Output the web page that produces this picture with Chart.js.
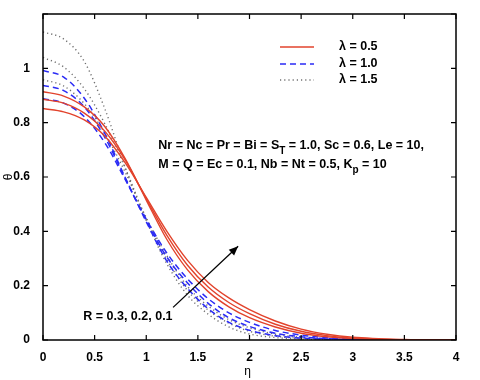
<!DOCTYPE html>
<html>
<head>
<meta charset="utf-8">
<script src="https://cdn.jsdelivr.net/npm/chart.js@4/dist/chart.umd.min.js"></script>
<style>
  body { margin: 0; background: #fff; }
</style>
</head>
<body>
<canvas id="myChart" width="480" height="380"></canvas>
<script>
// eta grid
var eta = [0, 0.2, 0.4, 0.6, 0.8, 1.0, 1.2, 1.4, 1.6, 1.8, 2.0, 2.25, 2.5, 2.75, 3.0, 3.5, 4.0];

// lambda = 0.5 (red, solid)
var red1 = [0.914, 0.898, 0.858, 0.785, 0.665, 0.515, 0.37, 0.258, 0.178, 0.122, 0.082, 0.048, 0.025, 0.012, 0.005, 0.001, 0];
var red2 = [0.886, 0.872, 0.835, 0.768, 0.66, 0.52, 0.385, 0.275, 0.195, 0.138, 0.097, 0.058, 0.032, 0.016, 0.007, 0.001, 0];
var red3 = [0.852, 0.84, 0.81, 0.75, 0.65, 0.525, 0.4, 0.293, 0.212, 0.155, 0.112, 0.07, 0.04, 0.021, 0.01, 0.002, 0];

// lambda = 1.0 (blue, dashed)
var blue1 = [0.992, 0.968, 0.89, 0.76, 0.595, 0.435, 0.29, 0.19, 0.115, 0.065, 0.036, 0.016, 0.007, 0.003, 0.001, 0, 0];
var blue2 = [0.937, 0.918, 0.858, 0.745, 0.592, 0.44, 0.305, 0.21, 0.135, 0.082, 0.05, 0.025, 0.012, 0.005, 0.002, 0, 0];
var blue3 = [0.888, 0.872, 0.822, 0.725, 0.588, 0.445, 0.32, 0.225, 0.152, 0.1, 0.065, 0.035, 0.018, 0.008, 0.003, 0, 0];

// lambda = 1.5 (gray, dotted)
var dot1 = [1.134, 1.108, 1.025, 0.85, 0.63, 0.44, 0.28, 0.165, 0.095, 0.048, 0.022, 0.009, 0.004, 0.001, 0, 0, 0];
var dot2 = [1.04, 1.005, 0.925, 0.795, 0.63, 0.445, 0.295, 0.182, 0.11, 0.062, 0.032, 0.014, 0.006, 0.002, 0.001, 0, 0];
var dot3 = [0.958, 0.935, 0.87, 0.76, 0.615, 0.45, 0.31, 0.197, 0.125, 0.075, 0.045, 0.021, 0.01, 0.004, 0.001, 0, 0];

var xTicks = [0, 0.5, 1, 1.5, 2, 2.5, 3, 3.5, 4];
var yTicks = [0, 0.2, 0.4, 0.6, 0.8, 1, 1.2];
var legendLabels = ['\u03bb = 0.5', '\u03bb = 1.0', '\u03bb = 1.5'];

var RED = '#e2432c';
var BLUE = '#2b2bf5';
var GRAY = '#707070';
var FONT = '"Liberation Sans", Arial, sans-serif';

function pts(ys) {
  return eta.map(function (x, i) { return { x: x, y: ys[i] }; });
}

function line(ys, color, dash, width) {
  return {
    data: pts(ys),
    borderColor: color,
    borderWidth: width,
    borderDash: dash,
    pointRadius: 0,
    fill: false,
    cubicInterpolationMode: 'monotone'
  };
}

var datasets = [
  line(red1, RED, [], 1.4),
  line(red2, RED, [], 1.4),
  line(red3, RED, [], 1.4),
  line(blue1, BLUE, [6, 4], 1.5),
  line(blue2, BLUE, [6, 4], 1.5),
  line(blue3, BLUE, [6, 4], 1.5),
  line(dot1, GRAY, [1.2, 3], 1.4),
  line(dot2, GRAY, [1.2, 3], 1.4),
  line(dot3, GRAY, [1.2, 3], 1.4)
];

// box, inward ticks, legend, labels and arrow
var decor = {
  id: 'decor',
  afterDraw: function (chart) {
    var ctx = chart.ctx;
    var a = chart.chartArea;
    var xs = chart.scales.x, ys = chart.scales.y;
    ctx.save();
    ctx.strokeStyle = '#000';
    ctx.lineWidth = 1.5;
    ctx.strokeRect(a.left, a.top, a.right - a.left, a.bottom - a.top);

    ctx.lineWidth = 1.2;
    xTicks.forEach(function (v) {
      var px = xs.getPixelForValue(v);
      ctx.beginPath();
      ctx.moveTo(px, a.bottom); ctx.lineTo(px, a.bottom - 5);
      ctx.moveTo(px, a.top); ctx.lineTo(px, a.top + 5);
      ctx.stroke();
    });
    yTicks.forEach(function (v) {
      var py = ys.getPixelForValue(v);
      ctx.beginPath();
      ctx.moveTo(a.left, py); ctx.lineTo(a.left + 5, py);
      ctx.moveTo(a.right, py); ctx.lineTo(a.right - 5, py);
      ctx.stroke();
    });

    // axis titles
    ctx.fillStyle = '#000';
    ctx.font = '12px ' + FONT;
    ctx.textAlign = 'center';
    ctx.textBaseline = 'middle';
    ctx.fillText('\u03b7', (a.left + a.right) / 2 - 2, 372);
    ctx.save();
    ctx.translate(9, ys.getPixelForValue(0.6));
    ctx.rotate(-Math.PI / 2);
    ctx.fillText('\u03b8', 0, 0);
    ctx.restore();

    // legend
    var styles = [[RED, [], 1.4], [BLUE, [6, 4], 1.5], [GRAY, [1.2, 3], 1.4]];
    var ly = [47, 64, 80];
    ctx.font = 'bold 12.5px ' + FONT;
    ctx.textAlign = 'left';
    for (var i = 0; i < 3; i++) {
      ctx.strokeStyle = styles[i][0];
      ctx.setLineDash(styles[i][1]);
      ctx.lineWidth = styles[i][2];
      ctx.beginPath();
      ctx.moveTo(280, ly[i]); ctx.lineTo(314, ly[i]);
      ctx.stroke();
      ctx.setLineDash([]);
      ctx.fillText(legendLabels[i], 339, ly[i]);
    }

    // parameter text with subscripts
    function run(parts, x, y) {
      parts.forEach(function (p) {
        if (p.sub) {
          ctx.font = 'bold 10px ' + FONT;
          ctx.fillText(p.t, x, y + 5);
        } else {
          ctx.font = 'bold 12.5px ' + FONT;
          ctx.fillText(p.t, x, y);
        }
        x += ctx.measureText(p.t).width;
      });
    }
    var tx = xs.getPixelForValue(1.117);
    run([{ t: 'Nr = Nc = Pr = Bi = S' }, { t: 'T', sub: true }, { t: ' = 1.0, Sc = 0.6, Le = 10,' }], tx, ys.getPixelForValue(0.715));
    run([{ t: 'M = Q = Ec = 0.1, Nb = Nt = 0.5, K' }, { t: 'p', sub: true }, { t: ' = 10' }], tx, ys.getPixelForValue(0.645));

    ctx.font = 'bold 12.5px ' + FONT;
    ctx.fillText('R = 0.3, 0.2, 0.1', xs.getPixelForValue(0.39), ys.getPixelForValue(0.088));

    // arrow
    var x0 = xs.getPixelForValue(1.26), y0 = ys.getPixelForValue(0.12);
    var x1 = xs.getPixelForValue(1.89), y1 = ys.getPixelForValue(0.345);
    ctx.strokeStyle = '#000';
    ctx.fillStyle = '#000';
    ctx.lineWidth = 1.3;
    ctx.beginPath();
    ctx.moveTo(x0, y0); ctx.lineTo(x1, y1);
    ctx.stroke();
    var ang = Math.atan2(y1 - y0, x1 - x0);
    ctx.beginPath();
    ctx.moveTo(x1, y1);
    ctx.lineTo(x1 - 10 * Math.cos(ang - 0.4), y1 - 10 * Math.sin(ang - 0.4));
    ctx.lineTo(x1 - 10 * Math.cos(ang + 0.4), y1 - 10 * Math.sin(ang + 0.4));
    ctx.closePath();
    ctx.fill();
    ctx.restore();
  }
};

var ctx = document.getElementById('myChart').getContext('2d');
var chart = new Chart(ctx, {
  type: 'line',
  data: { datasets: datasets },
  options: {
    responsive: false,
    animation: false,
    layout: { padding: { top: 14, right: 24, left: 0, bottom: 0 } },
    plugins: { legend: { display: false }, tooltip: { enabled: false } },
    scales: {
      x: {
        type: 'linear',
        min: 0,
        max: 4,
        afterFit: function (s) { s.height = 40; },
        afterBuildTicks: function (s) { s.ticks = xTicks.map(function (v) { return { value: v }; }); },
        grid: { display: false },
        border: { display: false },
        ticks: {
          padding: 2,
          color: '#000',
          font: { family: FONT, size: 12, weight: 'bold' },
          callback: function (v) { return String(v); }
        }
      },
      y: {
        min: 0,
        max: 1.2,
        afterFit: function (s) { s.width = 43; },
        afterBuildTicks: function (s) { s.ticks = yTicks.map(function (v) { return { value: v }; }); },
        grid: { display: false },
        border: { display: false },
        ticks: {
          padding: 5,
          color: '#000',
          font: { family: FONT, size: 12, weight: 'bold' },
          callback: function (v) { return v === 1.2 ? '' : String(+v.toFixed(1)); }
        }
      }
    }
  },
  plugins: [decor]
});
</script>
</body>
</html>
